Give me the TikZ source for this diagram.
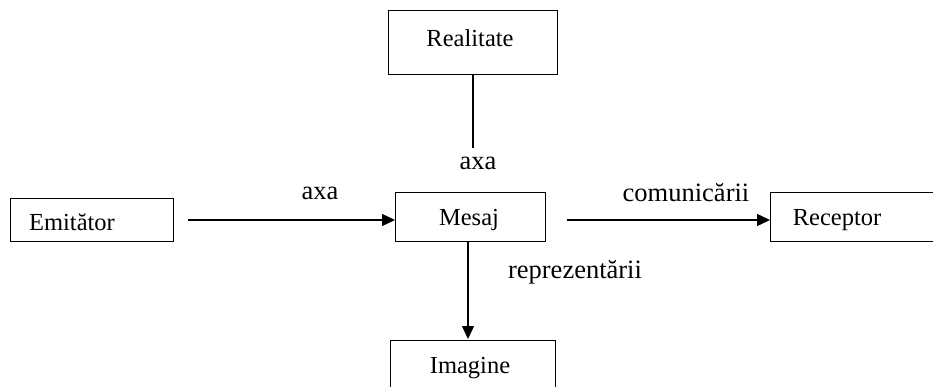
\documentclass[tikz,border=0pt]{standalone}
\usepackage{fontspec}
\setmainfont{Liberation Serif}
\usetikzlibrary{arrows.meta}
\tikzset{
  box/.style={draw, line width=1.3pt, inner sep=0pt},
  btxt/.style={inner sep=0pt, font=\fontsize{24.5}{28}\selectfont},
  lbl/.style={inner sep=0pt, font=\fontsize{26.5}{30}\selectfont},
  conn/.style={line width=1.3pt},
  arr/.style={conn, -{Triangle[length=13pt,width=12pt]}}
}
\begin{document}
\begin{tikzpicture}[x=1pt,y=-1pt]
\useasboundingbox (0,0) rectangle (933,387);
\clip (0,0) rectangle (933,387);
\node[box, minimum width=169pt, minimum height=64pt, anchor=north west] (real) at (388,10) {};
\node[box, minimum width=163pt, minimum height=43pt, anchor=north west] (emit) at (10,198) {};
\node[box, minimum width=150pt, minimum height=49pt, anchor=north west] (mes) at (395,192) {};
\node[box, minimum width=200pt, minimum height=49pt, anchor=north west] (rec) at (770,192) {};
\node[box, minimum width=165pt, minimum height=80pt, anchor=north west] (img) at (390,340) {};
\node[btxt] (realt) at (470,38) {Realitate};
\node[btxt] (emitt) at (72,222) {Emitător};
\node[btxt] (mest) at (469,220) {Mesaj};
\node[btxt] (rect) at (837,220) {Receptor};
\node[btxt] (imgt) at (470,368) {Imagine};
\coordinate (a1) at (188,220);
\coordinate (a2) at (567,220);
\coordinate (a3) at (473,148);
\draw[arr] (a1) -- (mes.west |- a1);
\draw[arr] (a2) -- (rec.west |- a2);
\draw[conn] (real.south -| a3) -- (a3);
\draw[arr] (468,241) -- (468,339);
\node[lbl] (l1) at (320,193) {axa};
\node[lbl] (l2) at (478,163) {axa};
\node[lbl] (l3) at (686,193) {comunicării};
\node[lbl] (l4) at (575,272) {reprezentării};
\end{tikzpicture}
\end{document}
